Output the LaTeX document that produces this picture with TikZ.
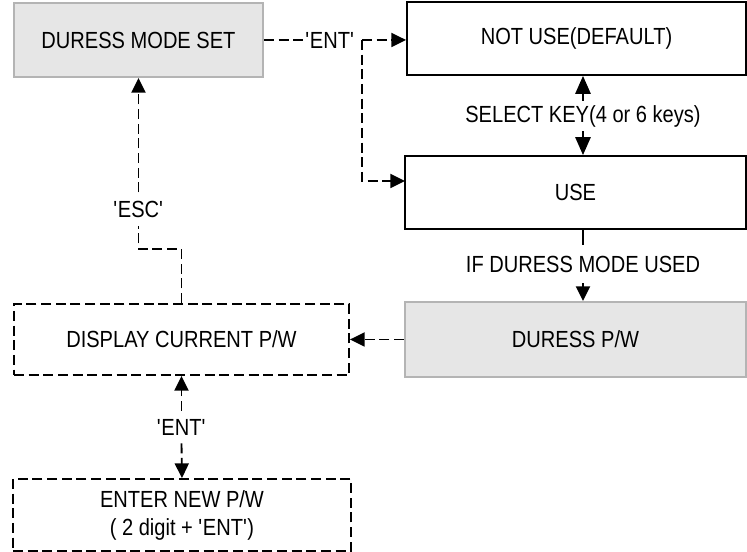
\documentclass[tikz,border=0pt]{standalone}
\usepackage{fontspec}
\setmainfont{Liberation Sans}[FakeStretch=0.86]
\usetikzlibrary{arrows.meta}
\definecolor{boxgray}{HTML}{E6E6E6}
\definecolor{edgegray}{HTML}{B4B4B4}
\newcommand{\qt}{\textquotesingle}

\begin{document}
\begin{tikzpicture}[x=0.75pt,y=0.75pt,
  font=\fontsize{17.5}{21}\selectfont,
  box/.style={draw,line width=1.4pt,align=center,inner sep=0pt},
  graybox/.style={box,draw=edgegray,fill=boxgray,line width=1.6pt},
  dashbox/.style={box,dash pattern=on 7.5pt off 3.5pt},
  tip/.style={-{Triangle[length=11pt,width=10.5pt]}},
  bigtip/.style={-{Triangle[length=13.5pt,width=11.5pt]}},
  dline/.style={line width=1.4pt,dash pattern=on 7.5pt off 3.5pt},
  sline/.style={line width=1.4pt}]
\useasboundingbox (0,0) rectangle (747,552);

% Boxes
\node[graybox,minimum width={249*0.75pt},minimum height={74*0.75pt}] (dms) at (138.5,512) {DURESS MODE SET};
\node[box,minimum width={339*0.75pt},minimum height={73*0.75pt}] (notuse) at (576.5,513.5) {NOT USE(DEFAULT)};
\node[box,minimum width={341*0.75pt},minimum height={73*0.75pt}] (use) at (575.5,359.5) {USE};
\node[graybox,minimum width={341*0.75pt},minimum height={75*0.75pt}] (dpw) at (575.5,212.5) {DURESS P/W};
\node[dashbox,minimum width={335*0.75pt},minimum height={71*0.75pt}] (disp) at (181.5,212.5) {DISPLAY CURRENT P/W};
\node[dashbox,minimum width={338*0.75pt},minimum height={72*0.75pt}] (newpw) at (182,37) {ENTER NEW P/W\\( 2 digit + \qt ENT\qt)};

% Labels
\node[inner sep=2pt] (ent1) at (330,512) {\qt ENT\qt};
\node[inner sep=3pt] (sel) at (583,436) {SELECT KEY(4 or 6 keys)};
\node[inner sep=8pt] (ifdm) at (583,288) {IF DURESS MODE USED};
\node[inner sep=6pt] (esc) at (138.5,343) {\qt ESC\qt};
\node[inner sep=6pt] (ent2) at (181.5,125) {\qt ENT\qt};
\coordinate (jn) at (362,512);
\coordinate (usein) at (405,371);
\coordinate (bend) at (138.5,303);

% ENT from mode set
\draw[dline] (dms.east) -- (ent1.west);
\draw[dline,tip] (jn) -- (jn -| notuse.west);
\draw[dline,tip] (jn) |- (usein);

% Select key
\draw[sline,bigtip] (sel.north) -- (sel.north |- notuse.south);
\draw[sline,bigtip] (sel.south) -- (sel.south |- use.north);

% If duress mode used
\draw[sline] (ifdm.north) -- (ifdm.north |- use.south);
\draw[sline,tip] (ifdm.south) -- (ifdm.south |- dpw.north);

% To display
\draw[dline,tip] (dpw.west) -- (disp.east);

% ESC back
\draw[dline] (disp.north) |- (bend) -- (esc.south);
\draw[dline,tip] (esc.north) -- (dms.south);

% ENT to new p/w
\draw[dline,tip] (ent2.north) -- (disp.south);
\draw[dline,tip] (ent2.south) -- (newpw.north);
\end{tikzpicture}
\end{document}
